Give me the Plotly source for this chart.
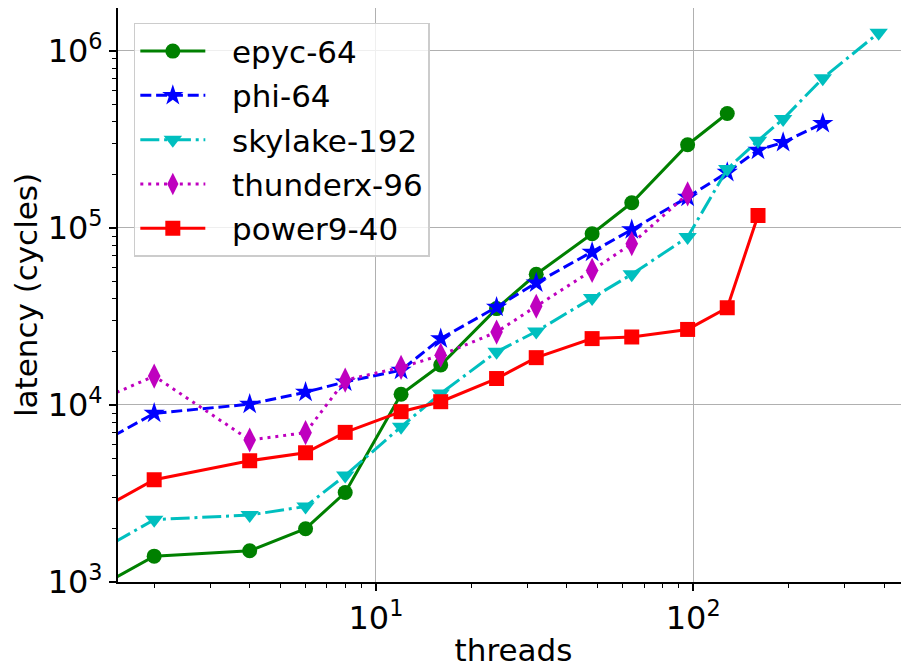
import plotly.graph_objects as go

threads_epyc = [1, 2, 4, 6, 8, 12, 16, 24, 32, 48, 64, 96, 128]
latency_epyc = [700, 1400, 1500, 2000, 3200, 11500, 16800, 35000, 54700, 92700, 138600, 295000, 443000]

threads_phi = [1, 2, 4, 6, 8, 12, 16, 24, 32, 48, 64, 96, 128, 160, 192, 256]
latency_phi = [4500, 8970, 10100, 11800, 13500, 15700, 23700, 35700, 48900, 73000, 97700, 149000, 206000, 275000, 304000, 389000]

threads_skylake = [1, 2, 4, 6, 8, 12, 16, 24, 32, 48, 64, 96, 128, 160, 192, 256, 384]
latency_skylake = [1110, 2250, 2390, 2670, 4000, 7530, 11600, 19950, 26000, 40200, 54700, 88700, 215000, 311000, 412000, 700000, 1265000]

threads_thunderx = [1, 2, 4, 6, 8, 12, 16, 24, 32, 48, 64, 96]
latency_thunderx = [8480, 14550, 6340, 6970, 13800, 16300, 19100, 25800, 36100, 57500, 81500, 155600]

threads_power9 = [1, 2, 4, 6, 8, 12, 16, 24, 32, 48, 64, 96, 128, 160]
latency_power9 = [1900, 3780, 4840, 5370, 7000, 9160, 10430, 14100, 18500, 23700, 24200, 26700, 35400, 117500]

series_names = ["epyc-64", "phi-64", "skylake-192", "thunderx-96", "power9-40"]

x_tick_vals = [10, 100]
x_tick_text = ["10<sup>1</sup>", "10<sup>2</sup>"]
y_tick_vals = [1e3, 1e4, 1e5, 1e6]
y_tick_text = ["10<sup>3</sup>", "10<sup>4</sup>", "10<sup>5</sup>", "10<sup>6</sup>"]

FONT = "DejaVu Sans"
LW = 3

styles = [
    ("#008000", "solid", "circle", 15),
    ("#0000ff", "11px,4.8px", "star", 16),
    ("#00bfbf", "19px,4.8px,3px,4.8px", "triangle-down", 16),
    ("#bf00bf", "3px,4.9px", "diamond-tall", 18),
    ("#ff0000", "solid", "square", 15),
]
data = [
    (threads_epyc, latency_epyc),
    (threads_phi, latency_phi),
    (threads_skylake, latency_skylake),
    (threads_thunderx, latency_thunderx),
    (threads_power9, latency_power9),
]

fig = go.Figure()
for i, (name, (xs, ys), (color, dash, sym, size)) in enumerate(zip(series_names, data, styles)):
    fig.add_trace(go.Scatter(
        x=xs, y=ys, name="\u2002\u2009" + name, mode="lines+markers",
        line=dict(color=color, width=LW, dash=dash),
        marker=dict(symbol=sym, size=size, color=color, line=dict(width=0)),
        legendgroup="g%d" % i,
    ))

minor_x = [m * 10 ** e for e in range(0, 3) for m in range(2, 10) if m * 10 ** e < 500]
minor_y = [m * 10 ** e for e in range(3, 6) for m in range(2, 10)]

# page body has an 8px default margin, so the figure is sized to fill the rest
fig.update_layout(
    width=901, height=660,
    margin=dict(l=110, r=0, t=0, b=86),
    paper_bgcolor="white", plot_bgcolor="white",
    font=dict(family=FONT, size=30, color="black"),
    showlegend=True,
    legend=dict(
        x=0.02, y=0.974, xanchor="left", yanchor="top",
        bgcolor="rgba(255,255,255,0.8)", bordercolor="#cccccc", borderwidth=1.5,
        font=dict(family=FONT, size=31), itemwidth=65, tracegroupgap=1,
        traceorder="grouped",
    ),
)

fig.update_xaxes(
    type="log", range=[0.187, 2.68], automargin=False,
    tickmode="array", tickvals=x_tick_vals, ticktext=x_tick_text,
    ticks="outside", ticklen=7, tickwidth=2, tickcolor="black",
    showline=True, linecolor="black", linewidth=2, mirror=True,
    showgrid=True, gridcolor="#b0b0b0", gridwidth=1.3,
    zeroline=False,
    tickfont=dict(family=FONT, size=32),
    minor=dict(tickmode="array", tickvals=minor_x, ticks="outside", ticklen=4,
               tickwidth=1.3, tickcolor="black", showgrid=False),
    title=dict(text="threads", font=dict(family=FONT, size=31), standoff=8),
)
fig.update_yaxes(
    type="log", range=[3.0, 6.242], automargin=False,
    tickmode="array", tickvals=y_tick_vals, ticktext=y_tick_text,
    ticks="outside", ticklen=7, tickwidth=2, tickcolor="black",
    showline=True, linecolor="black", linewidth=2, mirror=False,
    showgrid=True, gridcolor="#b0b0b0", gridwidth=1.3,
    zeroline=False,
    tickfont=dict(family=FONT, size=32),
    minor=dict(tickmode="array", tickvals=minor_y, ticks="outside", ticklen=4,
               tickwidth=1.3, tickcolor="black", showgrid=False),
    title=dict(text="latency (cycles)", font=dict(family=FONT, size=31), standoff=10),
)

fig.write_html("out.html")
